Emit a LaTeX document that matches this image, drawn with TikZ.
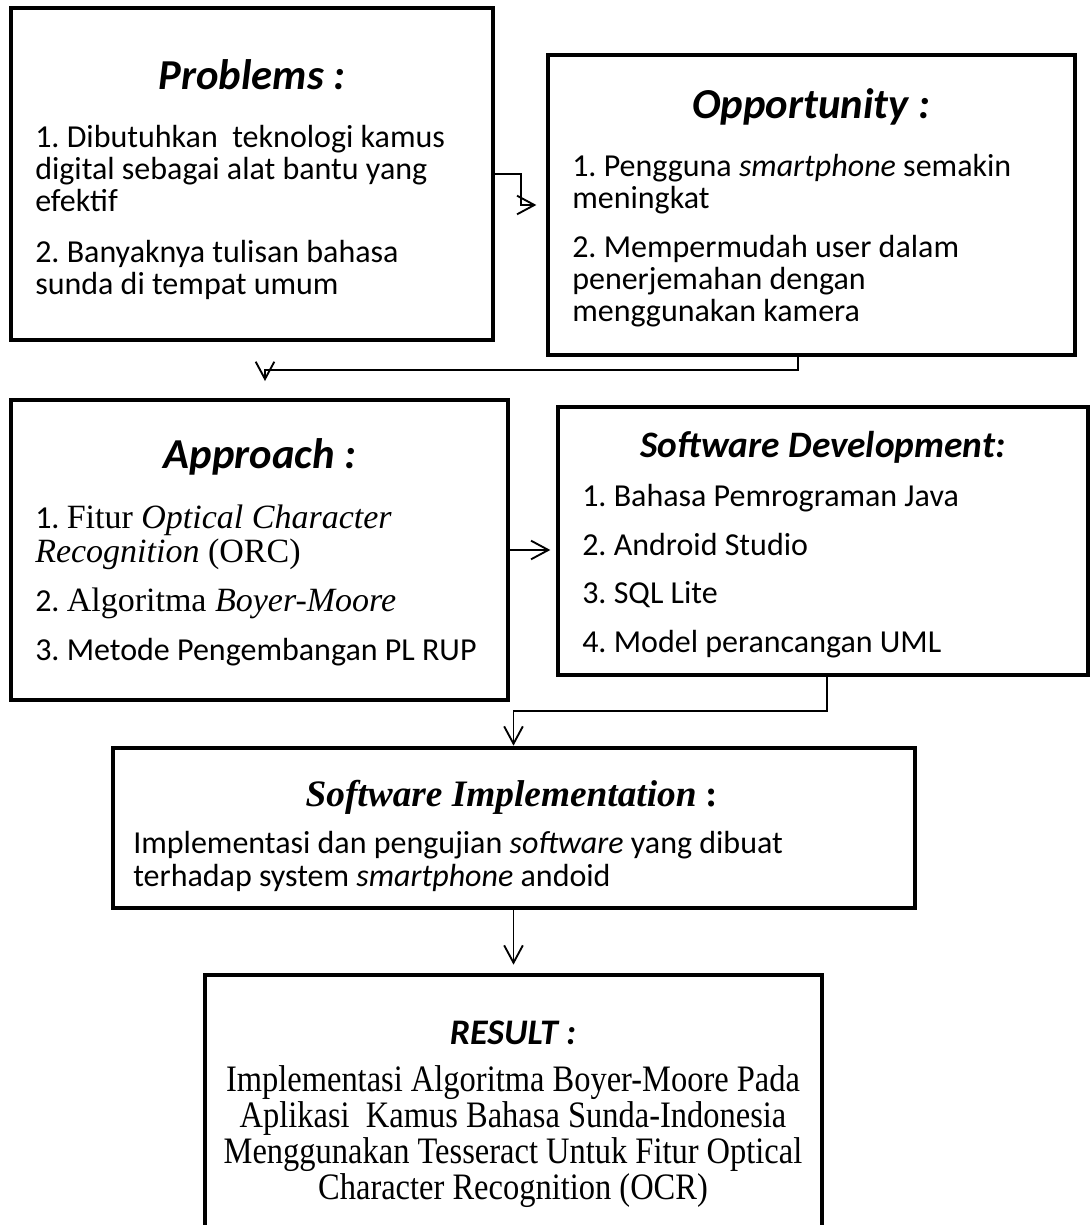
\documentclass[tikz,border=0pt]{standalone}
\usepackage{fontspec}
\setmainfont{Carlito}
\newfontfamily\tnr{Liberation Serif}
\newfontfamily\tnrnarrow[FakeStretch=0.87]{Liberation Serif}
\usetikzlibrary{arrows.meta,fit,positioning}
\frenchspacing

\begin{document}
\begin{tikzpicture}[x=0.75pt,y=0.75pt,yscale=-1,
  panel/.style={draw, line width=3.5pt, inner sep=0pt},
  heading/.style={font=\fontsize{32}{34}\selectfont\bfseries\itshape, inner sep=0pt},
  body/.style={font=\fontsize{24}{24}\selectfont, align=left, anchor=north west, inner sep=0pt},
  link/.style={line width=1pt, -{Straight Barb[length=13pt,width=14pt,line width=1.4pt]}}]
\useasboundingbox (0,0) rectangle (1090,1225);

%Boxes
\node [panel, fit={(11,8) (493,340)}] (prob) {};
\node [panel, fit={(548,55) (1075,355)}] (opp) {};
\node [panel, fit={(11,400) (508,700)}] (appr) {};
\node [panel, fit={(558,407) (1088,675)}] (dev) {};
\node [panel, fit={(113,748) (915,908)}] (impl) {};
\node [panel, fit={(205,975) (822,1260)}] (res) {};

%Problems
\node [heading] (probT) at (252,75) {Problems :};
\node [body] (probB) at (35,125) {1. Dibutuhkan\ \ teknologi kamus\\
digital sebagai alat bantu yang\\
efektif\\[14pt]
2. Banyaknya tulisan bahasa\\
sunda di tempat umum};

%Opportunity
\node [heading] (oppT) at (811,107) {Opportunity :};
\node [body] (oppB) at (572,154) {1. Pengguna \textit{smartphone} semakin\\
meningkat\\[13pt]
2. Mempermudah user dalam\\
penerjemahan dengan\\
menggunakan kamera};

%Approach
\node [heading] (apprT) at (260,457) {Approach :};
\node [body, font=\fontsize{24}{25}\selectfont] (apprB) at (35,505) {1. {\tnr\fontsize{25.5}{25}\selectfont Fitur \textit{Optical Character}}\\
{\tnr\fontsize{25.5}{25}\selectfont\textit{Recognition} (ORC)}\\[12pt]
2. {\tnr\fontsize{25.5}{25}\selectfont Algoritma \textit{Boyer-Moore}}\\[12pt]
3. Metode Pengembangan PL RUP};

%Software Development
\node [heading, font=\fontsize{28}{30}\selectfont\bfseries\itshape] (devT) at (823,447) {Software Development:};
\node [body, font=\fontsize{24}{36.5}\selectfont] (devB) at (582,484) {1. Bahasa Pemrograman Java\\
2. Android Studio\\
3. SQL Lite\\
4. Model perancangan UML};

%Software Implementation
\node [heading, font=\fontsize{28}{30}\selectfont\tnr\bfseries\itshape] (implT) at (512,797) {Software Implementation \upshape:};
\node [body, font=\fontsize{24}{25}\selectfont] (implB) at (133,831) {Implementasi dan pengujian \textit{software} yang dibuat\\
terhadap system \textit{smartphone} andoid};

%Result
\node [heading, font=\fontsize{27}{29}\selectfont\bfseries\itshape] (resT) at (513,1033) {RESULT :};
\node [font=\fontsize{28}{27}\selectfont\tnrnarrow, align=center, anchor=north, inner sep=0pt] (resB) at (513,1065) {Implementasi Algoritma Boyer-Moore Pada\\
Aplikasi\ \ Kamus Bahasa Sunda-Indonesia\\
Menggunakan Tesseract Untuk Fitur Optical\\
Character Recognition (OCR)};

%Connectors
\coordinate (probOut) at (521,205);
\coordinate (oppOut) at (798,370);
\coordinate (apprIn) at (265,381);
\coordinate (devOut) at (827,711);

\draw [link, shorten >=7pt] (prob.east) -| (probOut) -- (probOut -| opp.west);
\draw [link] (oppOut |- opp.south) -- (oppOut) -| (apprIn);
\draw [link, shorten >=4pt] (appr.east) -- (appr.east -| dev.west);
\draw [link] (devOut |- dev.south) -- (devOut) -| (impl.north -| res.north);
\draw [link, shorten >=6pt] (impl.south -| res.north) -- (res.north);

\end{tikzpicture}
\end{document}
